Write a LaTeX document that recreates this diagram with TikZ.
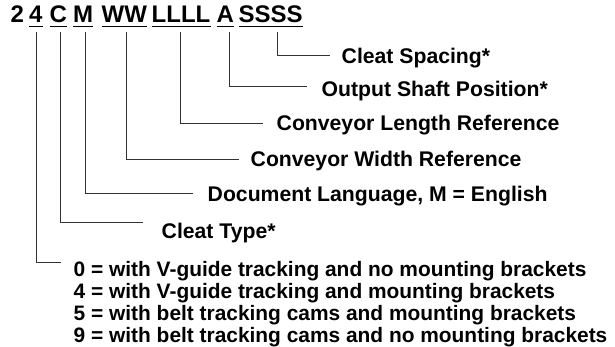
\documentclass[tikz,border=0pt]{standalone}
\usepackage{fontspec}
\setmainfont{Liberation Sans}
\begin{document}
\begin{tikzpicture}[x=1pt,y=-1pt,
  code/.style={font=\fontsize{24}{28}\selectfont\bfseries, inner sep=0pt, anchor=base west},
  lab/.style={font=\fontsize{21.2}{23}\selectfont\bfseries, inner sep=0pt, anchor=base west},
  row/.style={font=\fontsize{20.9}{23}\selectfont\bfseries, inner sep=0pt, anchor=base west},
  lead/.style={draw=black!80, line width=0.9pt},
  uline/.style={draw=black, line width=1.4pt}]
\useasboundingbox (0,0) rectangle (615,347);
% code line
\node[code] (c2) at (10.5,23) {2};
\node[code] (c4) at (29,23) {4};
\node[code] (cC) at (49.5,23) {C};
\node[code] (cM) at (73,23) {M};
\node[code] (cW) at (101.5,23) {WW};
\node[code] (cL) at (151.5,23) {LLLL};
\node[code] (cA) at (216.5,23) {A};
\node[code] (cS) at (238.5,23) {SSSS};
\foreach \n in {c4,cC,cM,cW,cL,cA,cS}
  \draw[uline] ([yshift=-3.5pt]\n.base west) -- ([yshift=-3.5pt]\n.base east);
% labels
\node[lab] (lS) at (341.5,64) {Cleat Spacing*};
\node[lab] (lA) at (321.5,97) {Output Shaft Position*};
\node[lab] (lL) at (276.5,131) {Conveyor Length Reference};
\node[lab] (lW) at (250.5,166.5) {Conveyor Width Reference};
\node[lab] (lM) at (207.5,201.5) {Document Language, M = English};
\node[lab] (lC) at (161.5,239) {Cleat Type*};
\node[row] (l0) at (73.5,276.5) {0 = with V-guide tracking and no mounting brackets};
\node[row] (l4) at (73.5,298.5) {4 = with V-guide tracking and mounting brackets};
\node[row] (l5) at (73.5,320.5) {5 = with belt tracking cams and mounting brackets};
\node[row] (l9) at (73.5,342.3) {9 = with belt tracking cams and no mounting brackets};
% leader lines
\coordinate (sS) at (277,32);  \coordinate (eS) at (330,55);
\coordinate (sA) at (229,32);  \coordinate (eA) at (307,86);
\coordinate (sL) at (180,32);  \coordinate (eL) at (263,123);
\coordinate (sW) at (126,32);  \coordinate (eW) at (239,159);
\coordinate (sM) at (85,32);   \coordinate (eM) at (193,193);
\coordinate (sC) at (60,32);   \coordinate (eC) at (143,222.5);
\coordinate (s4) at (36,32);   \coordinate (e4) at (61,262);
\foreach \k in {S,A,L,W,M,C,4}
  \draw[lead] (s\k) |- (e\k);
\end{tikzpicture}
\end{document}
